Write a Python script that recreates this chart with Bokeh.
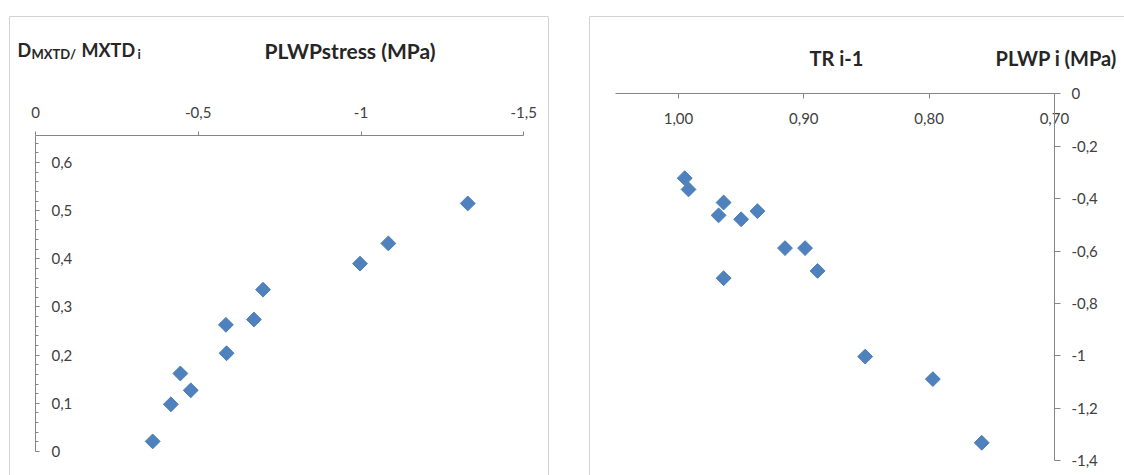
import numpy as np
from bokeh.plotting import figure
from bokeh.models import (LinearAxis, Range1d, FixedTicker, CustomJSTickFormatter,
                          Label, Span)
from bokeh.layouts import row
from bokeh.embed import file_html
from bokeh.resources import INLINE

# ---------------- data ----------------
# left panel: PLWPstress (MPa) vs D_MXTD / MXTD_i
plwp_stress = [-0.360, -0.416, -0.445, -0.477, -0.585, -0.587, -0.671, -0.699, -0.997, -1.084, -1.328]
dmxtd_ratio = [0.021, 0.098, 0.162, 0.127, 0.263, 0.204, 0.274, 0.336, 0.390, 0.432, 0.515]

# right panel: TR i-1 vs PLWP i (MPa)
tr_prev = [0.995, 0.992, 0.964, 0.968, 0.950, 0.937, 0.915, 0.899, 0.889, 0.964, 0.851, 0.797, 0.758]
plwp_i = [-0.322, -0.365, -0.415, -0.464, -0.479, -0.448, -0.589, -0.589, -0.676, -0.704, -1.003, -1.089, -1.332]

left_x_ticks = [0, -0.5, -1, -1.5]
left_y_ticks = [0, 0.1, 0.2, 0.3, 0.4, 0.5, 0.6]
left_y_minor = [round(0.02 * i, 2) for i in range(33)]
right_x_ticks = [1.00, 0.90, 0.80, 0.70]
right_y_ticks = [0, -0.2, -0.4, -0.6, -0.8, -1.0, -1.2, -1.4]

# ---------------- style ----------------
FONT = "Lato"
TICK_COLOR = "#404040"
TITLE_COLOR = "#262626"
AXIS_COLOR = "#868686"
BORDER_COLOR = "#A6A6A6"
MARK_FILL = "#4F81BD"
MARK_LINE = "#4A7EBB"

H = 475
LW, RW = 568, 556

# pixel <-> data helpers (layout only)
def lx(px): return -(px - 35.0) / 325.5
def ly(py): return (451.0 - py) / 481.7
def rx(px): return 1.0 - (px - 678.0) / 1253.0
def ry(py): return -(py - 93.3) / 262.0


def style_axis(ax):
    ax.axis_line_color = AXIS_COLOR
    ax.major_tick_line_color = AXIS_COLOR
    ax.minor_tick_line_color = AXIS_COLOR
    ax.major_label_text_font = FONT
    ax.major_label_text_font_size = "15px"
    ax.major_label_text_color = TICK_COLOR


def title(p, x, y, text, size="21px"):
    p.add_layout(Label(x=x, y=y, text=text, text_font=FONT, text_font_style="bold",
                       text_font_size=size, text_color=TITLE_COLOR,
                       text_align="left", text_baseline="alphabetic"))


comma_fmt = "const s = String(Math.round(tick*100)/100); return s.replace('.', ',');"

# ---------------- left panel ----------------
pl = figure(width=LW, height=H, output_backend="svg", toolbar_location=None,
            x_axis_location=None, y_axis_location=None,
            x_range=Range1d(lx(9), lx(548)), y_range=Range1d(ly(475), ly(16)),
            min_border_left=9, min_border_right=20, min_border_top=16, min_border_bottom=0)
pl.xgrid.visible = False
pl.ygrid.visible = False
pl.outline_line_color = None
pl.background_fill_color = "white"

xa = LinearAxis(fixed_location=0.655, bounds=(-1.5, 0),
                ticker=FixedTicker(ticks=left_x_ticks, minor_ticks=[]),
                formatter=CustomJSTickFormatter(code=comma_fmt))
style_axis(xa)
xa.major_tick_in = 0
xa.major_tick_out = 4
xa.minor_tick_in = 0
xa.minor_tick_out = 0
xa.major_label_standoff = 14
pl.add_layout(xa, "above")

ya = LinearAxis(fixed_location=0, bounds=(0, 0.655),
                ticker=FixedTicker(ticks=left_y_ticks, minor_ticks=left_y_minor),
                formatter=CustomJSTickFormatter(code="const s = tick.toFixed(1); return s === '0.0' ? '0' : s.replace('.', ',');"))
style_axis(ya)
ya.major_tick_in = 0
ya.major_tick_out = 4
ya.minor_tick_in = 0
ya.minor_tick_out = 3
ya.major_label_standoff = 12
pl.add_layout(ya, "right")

pl.scatter(plwp_stress, dmxtd_ratio, marker="square", angle=np.pi / 4, size=10.5,
           fill_color=MARK_FILL, line_color=MARK_LINE)

title(pl, lx(17), ly(49), "D", "18px")
title(pl, lx(31), ly(53), "MXTD/", "13px")
title(pl, lx(81), ly(49), "MXTD", "18px")
title(pl, lx(137), ly(53), "i", "13px")
title(pl, lx(264), ly(50), "PLWPstress (MPa)")

pl.add_layout(Span(location=lx(9), dimension="height", line_color=BORDER_COLOR, line_width=1))
pl.add_layout(Span(location=lx(548), dimension="height", line_color=BORDER_COLOR, line_width=1))
pl.add_layout(Span(location=ly(16), dimension="width", line_color=BORDER_COLOR, line_width=1))

# ---------------- right panel ----------------
pr = figure(width=RW, height=H, output_backend="svg", toolbar_location=None,
            x_axis_location=None, y_axis_location=None,
            x_range=Range1d(rx(589), rx(1124)), y_range=Range1d(ry(475), ry(16)),
            min_border_left=21, min_border_right=0, min_border_top=16, min_border_bottom=0)
pr.xgrid.visible = False
pr.ygrid.visible = False
pr.outline_line_color = None

xb = LinearAxis(fixed_location=0, bounds=(0.70, 1.05),
                ticker=FixedTicker(ticks=right_x_ticks, minor_ticks=[]),
                formatter=CustomJSTickFormatter(code="return tick.toFixed(2).replace('.', ',');"))
style_axis(xb)
xb.major_tick_in = 0
xb.major_tick_out = 5
xb.minor_tick_in = 0
xb.minor_tick_out = 0
xb.major_label_standoff = 14
pr.add_layout(xb, "below")

yb = LinearAxis(fixed_location=0.70, bounds=(-1.4, 0),
                ticker=FixedTicker(ticks=right_y_ticks, minor_ticks=[]),
                formatter=CustomJSTickFormatter(code=comma_fmt))
style_axis(yb)
yb.major_tick_in = 0
yb.major_tick_out = 6
yb.minor_tick_in = 0
yb.minor_tick_out = 0
yb.major_label_standoff = 11
pr.add_layout(yb, "right")

pr.scatter(tr_prev, plwp_i, marker="square", angle=np.pi / 4, size=10.5,
           fill_color=MARK_FILL, line_color=MARK_LINE)

title(pr, rx(809), ry(57), "TR i-1", "20px")
title(pr, rx(995), ry(57), "PLWP i (MPa)", "20px")

pr.add_layout(Span(location=rx(589), dimension="height", line_color=BORDER_COLOR, line_width=1))
pr.add_layout(Span(location=ry(16), dimension="width", line_color=BORDER_COLOR, line_width=1))

layout = row(pl, pr, spacing=0)
open("out.html", "w").write(file_html(layout, INLINE))
